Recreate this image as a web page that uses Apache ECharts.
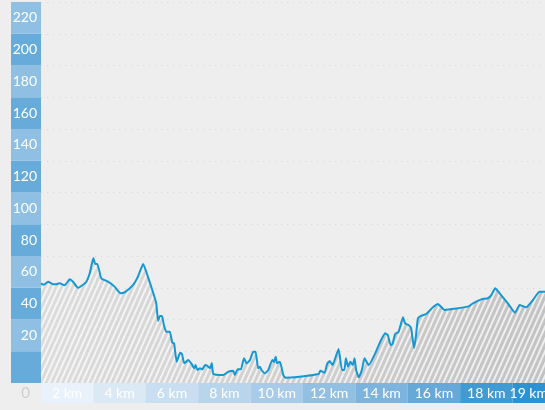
<!DOCTYPE html>
<html>
<head>
<meta charset="utf-8">
<script src="https://cdn.jsdelivr.net/npm/echarts@6/dist/echarts.min.js"></script>
<style>
html,body{margin:0;padding:0;background:#eeeeee;}
#chart{width:545px;height:410px;}
</style>
</head>
<body>
<div id="chart"></div>
<script>
const distanceKm = [0,0.11,0.27,0.46,0.58,0.71,0.90,1.10,1.22,1.41,
1.54,1.73,1.86,2.00,2.07,2.15,2.30,2.56,2.81,3.04,
3.19,3.51,3.70,3.90,4.08,4.27,4.40,4.47,4.54,4.62,
4.69,4.78,4.84,4.92,5.01,5.08,5.18,5.31,5.38,5.47,
5.62,5.75,5.85,5.90,5.97,6.07,6.16,6.26,6.36,6.45,
6.52,6.58,6.96,7.15,7.34,7.40,7.51,7.63,7.75,7.85,
7.98,8.10,8.19,8.29,8.36,8.42,8.55,8.68,8.83,8.89,
8.96,9.01,9.12,9.25,9.34,9.69,10.60,10.66,10.83,10.92,
11.02,11.13,11.21,11.36,11.49,11.58,11.64,11.72,11.81,11.90,
11.97,12.03,12.13,12.25,12.35,12.51,12.76,12.95,13.14,13.24,
13.35,13.42,13.52,13.65,13.82,13.90,14.03,14.13,14.24,14.31,
14.39,14.52,14.71,14.96,15.15,15.41,16.30,16.49,16.81,17.06,
17.19,17.34,17.51,17.82,18.10,18.27,18.52,18.78,19.03,19.24];

const elevation = [62.8,61.9,63.8,62.2,62.2,62.8,61.5,65.3,63.8,60.0,
61.1,63.8,69.1,78.7,75.0,75.0,66.0,63.8,60.7,56.5,
57.1,61.7,67.0,75.0,67.0,57.5,50.2,39.1,42.2,42.2,
36.5,32.3,32.3,32.3,25.4,25.0,13.4,19.1,18.3,12.4,
14.5,12.0,9.3,11.3,8.2,9.3,8.6,11.3,10.7,9.3,
12.4,5.7,5.0,7.1,7.7,5.0,8.6,8.6,15.6,12.4,
14.5,19.7,19.7,9.3,10.3,8.2,6.1,8.2,14.5,13.2,
16.6,12.4,13.4,5.0,3.3,3.6,5.7,7.7,6.5,12.0,
13.9,11.3,14.5,21.4,8.2,8.2,15.6,10.3,13.4,11.3,
15.6,8.2,3.6,8.2,15.6,11.3,18.7,26.0,31.3,30.2,
23.9,24.6,30.9,32.3,41.4,37.6,36.5,34.5,21.9,29.2,
40.8,42.4,43.5,47.7,49.8,46.0,48.1,50.2,52.7,53.4,
55.4,59.7,56.5,50.2,44.3,49.1,47.7,52.3,57.5,57.5];

const yBandLabels = ['', '20', '40', '60', '80', '100', '120', '140', '160', '180', '200', '220'];
const xCellLabels = ['2 km', '4 km', '6 km', '8 km', '10 km', '12 km', '14 km', '16 km', '18 km', '19 km'];
const xCellWidths = [2, 2, 2, 2, 2, 2, 2, 2, 2, 1.24];
const xZeroLabel = ['0'];

const xCellColors = ['#e9f2fa','#dbe9f5','#c9dff1','#b9d5ec','#a7cbe8','#92c0e3','#7db4de','#66a9d9','#419bd3','#2d93d0'];
const FONT = 'Lato, "Open Sans", sans-serif';
const xMax = 19.24;

const chart = echarts.init(document.getElementById('chart'), null, {renderer: 'canvas'});

const cellSeries = xCellLabels.map((lab, i) => ({
  type: 'bar',
  xAxisIndex: 2,
  yAxisIndex: 2,
  stack: 'cells',
  barWidth: '100%',
  silent: true,
  data: [{value: xCellWidths[i], name: lab}],
  itemStyle: {color: xCellColors[i]},
  label: {
    show: true,
    position: 'inside',
    formatter: '{b}',
    color: '#ffffff',
    fontFamily: FONT,
    fontSize: 14,
    padding: [3, 0, 0, 0]
  }
}));

chart.setOption({
  backgroundColor: '#eeeeee',
  animation: false,
  grid: [
    {left: 41, right: 0, top: 2, bottom: 27},
    {left: 11, width: 30, top: 2, bottom: 27},
    {left: 41, right: 0, top: 383, height: 20}
  ],
  xAxis: [
    {gridIndex: 0, type: 'value', min: 0, max: xMax, show: false},
    {gridIndex: 1, type: 'value', min: 0, max: 1, show: false},
    {gridIndex: 2, type: 'value', min: 0, max: xMax, show: false}
  ],
  yAxis: [
    {
      gridIndex: 0, type: 'value', min: 0, max: 240, interval: 20,
      axisLine: {show: false}, axisTick: {show: false}, axisLabel: {show: false},
      splitLine: {show: true, lineStyle: {color: '#d6d6d6', width: 1, type: [1, 5]}}
    },
    {
      gridIndex: 1, type: 'category', position: 'right', data: yBandLabels,
      boundaryGap: true,
      axisLine: {show: false}, axisTick: {show: false},
      splitLine: {show: false},
      splitArea: {show: true, areaStyle: {color: ['#66abd9', '#8fc0e3']}},
      axisLabel: {inside: true, margin: 4, color: '#ffffff', fontFamily: FONT, fontSize: 14, padding: [2, 0, 0, 0]}
    },
    {
      gridIndex: 2, type: 'category', data: xZeroLabel,
      axisLine: {show: false}, axisTick: {show: false},
      axisLabel: {margin: 11, color: '#cfcfcf', fontFamily: FONT, fontSize: 15}
    }
  ],
  series: [
    {
      type: 'line',
      xAxisIndex: 0,
      yAxisIndex: 0,
      data: distanceKm.map((d, i) => [d, elevation[i]]),
      showSymbol: false,
      smooth: 0.15,
      lineStyle: {color: '#1597d3', width: 2},
      itemStyle: {
        color: '#1597d3',
        decal: {
          symbol: 'rect',
          symbolSize: 1,
          dashArrayX: [1, 0],
          dashArrayY: [1.6, 3],
          rotation: -1.15,
          color: 'rgba(255,255,255,0.72)'
        }
      },
      areaStyle: {
        opacity: 1,
        color: {
          type: 'linear', x: 0, y: 0, x2: 1, y2: 0,
          colorStops: [{offset: 0, color: '#dcdcdc'}, {offset: 1, color: '#c2c2c2'}]
        }
      }
    }
  ].concat(cellSeries)
});
</script>
</body>
</html>
